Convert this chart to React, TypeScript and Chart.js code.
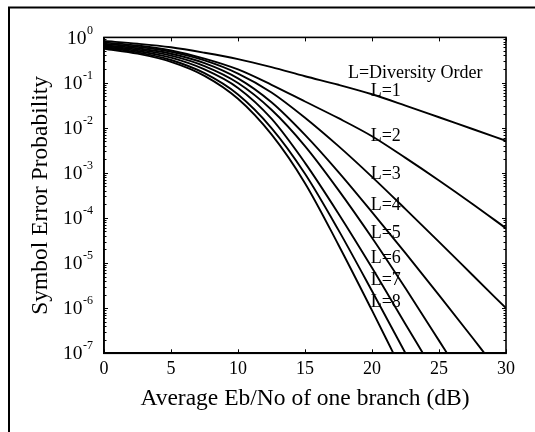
import React, { useEffect, useRef } from "react";
import { Chart, registerables } from "chart.js";

Chart.register(...registerables);

// ---- data ----
const ebNo = [0, 2.5, 5, 7.5, 10, 12.5, 15, 17.5, 20, 22.5, 25, 27.5, 30];

const serL1 = [0.832, 0.724, 0.603, 0.457, 0.331, 0.219, 0.138, 0.0891, 0.055, 0.0309, 0.017, 0.00933, 0.00513];
const serL2 = [0.776, 0.661, 0.513, 0.339, 0.195, 0.0891, 0.038, 0.0162, 0.00646, 0.00214, 6.76e-4, 2.04e-4, 5.89e-5];
const serL3 = [0.724, 0.617, 0.479, 0.309, 0.158, 0.0603, 0.0166, 0.00389, 8.13e-4, 1.57e-4, 2.95e-5, 5.43e-6, 1.0e-6];
const serL4 = [0.676, 0.573, 0.435, 0.269, 0.124, 0.0366, 0.00693, 1.04e-3, 1.35e-4, 1.66e-5, 1.95e-6, 2.21e-7];
const serL5 = [0.646, 0.537, 0.394, 0.231, 0.0973, 0.0249, 0.00391, 4.14e-4, 3.63e-5, 2.75e-6, 1.91e-7];
const serL6 = [0.617, 0.501, 0.355, 0.195, 0.0759, 0.0158, 0.00166, 1.24e-4, 7.85e-6, 4.42e-7];
const serL7 = [0.589, 0.467, 0.316, 0.161, 0.0543, 0.00982, 9.55e-4, 5.37e-5, 2.4e-6];
const serL8 = [0.562, 0.437, 0.288, 0.141, 0.0437, 0.00708, 5.89e-4, 2.51e-5, 8.91e-7];

const seriesList = [serL1, serL2, serL3, serL4, serL5, serL6, serL7, serL8];
// Eb/No where each curve leaves the plot through the 1e-7 floor (null: exits at the right edge)
const floorCrossing = [null, null, null, 28.4, 25.6, 23.8, 22.5, 21.6];
const floorValue = 1e-7;

const xTicks = [0, 5, 10, 15, 20, 25, 30];
const yMajor = [1e-7, 1e-6, 1e-5, 1e-4, 1e-3, 1e-2, 1e-1, 1];
const yTickBase = "10";
const yTickExponents = ["-7", "-6", "-5", "-4", "-3", "-2", "-1", "0"];
const yMinorMult = [2, 3, 4, 5, 6, 7, 8, 9];

const annoTexts = ["L=Diversity Order", "L=1", "L=2", "L=3", "L=4", "L=5", "L=6", "L=7", "L=8"];
const annoX = [18.2, 19.9, 19.9, 19.9, 19.9, 19.9, 19.9, 19.9, 19.9];
const annoY = [0.162, 0.063, 0.0063, 9.3e-4, 1.95e-4, 4.68e-5, 1.26e-5, 4.17e-6, 1.35e-6];

// ---- helpers ----
const yTickValues: number[] = [];
yMajor.forEach((m) => {
  yTickValues.push(m);
  if (m < 1) yMinorMult.forEach((k) => yTickValues.push(m * k));
});
yTickValues.sort((a, b) => a - b);

const majorIndex = (v: number) => yMajor.findIndex((m) => Math.abs(m - v) / m < 1e-6);

const FONT = "'Liberation Serif', 'Times New Roman', serif";

const datasets = seriesList.map((vals, i) => {
  const pts = vals.map((v, j) => ({ x: ebNo[j], y: v }));
  const c = floorCrossing[i];
  if (c !== null) pts.push({ x: c, y: floorValue });
  return {
    label: `L=${i + 1}`,
    data: pts,
    borderColor: "#000",
    borderWidth: 1.9,
    pointRadius: 0,
    fill: false,
    cubicInterpolationMode: "monotone" as const,
  };
});

const decorPlugin = {
  id: "decor",
  afterDraw(chart: any) {
    const { ctx, chartArea: a, scales } = chart;
    const xs = scales.x;
    const ys = scales.y;
    ctx.save();
    ctx.strokeStyle = "#000";
    // axes box
    ctx.lineWidth = 1.6;
    ctx.strokeRect(a.left, a.top, a.right - a.left, a.bottom - a.top);
    // inward ticks
    ctx.lineWidth = 1;
    ctx.beginPath();
    xs.ticks.forEach((t: any) => {
      const px = Math.round(xs.getPixelForValue(t.value)) + 0.5;
      ctx.moveTo(px, a.bottom);
      ctx.lineTo(px, a.bottom - 4);
      ctx.moveTo(px, a.top);
      ctx.lineTo(px, a.top + 4);
    });
    ys.ticks.forEach((t: any) => {
      const py = Math.round(ys.getPixelForValue(t.value)) + 0.5;
      const len = majorIndex(t.value) >= 0 ? 4 : 2.5;
      ctx.moveTo(a.left, py);
      ctx.lineTo(a.left + len, py);
      ctx.moveTo(a.right, py);
      ctx.lineTo(a.right - len, py);
    });
    ctx.stroke();
    // figure border (top and left)
    ctx.lineWidth = 2;
    ctx.beginPath();
    ctx.moveTo(9, chart.height);
    ctx.lineTo(9, 7.5);
    ctx.lineTo(chart.width, 7.5);
    ctx.stroke();
    ctx.fillStyle = "#000";
    // y tick labels: 10 with superscript exponent
    const rightEdge = a.left - 11;
    yMajor.forEach((m, i) => {
      const py = ys.getPixelForValue(m);
      ctx.font = `12px ${FONT}`;
      ctx.textBaseline = "middle";
      ctx.textAlign = "left";
      const ew = ctx.measureText(yTickExponents[i]).width;
      ctx.fillText(yTickExponents[i], rightEdge - ew, py - 7);
      ctx.font = `19.5px ${FONT}`;
      ctx.textAlign = "right";
      ctx.fillText(yTickBase, rightEdge - ew - 0.5, py + 1);
    });
    // annotations
    ctx.font = `18px ${FONT}`;
    ctx.textAlign = "left";
    ctx.textBaseline = "middle";
    annoTexts.forEach((txt, i) => {
      ctx.fillText(txt, xs.getPixelForValue(annoX[i]), ys.getPixelForValue(annoY[i]));
    });
    ctx.restore();
  },
};

export default function App() {
  const ref = useRef<HTMLCanvasElement>(null);
  useEffect(() => {
    document.body.style.margin = "0";
    document.body.style.background = "#fff";
    const chart = new Chart(ref.current as HTMLCanvasElement, {
      type: "line",
      data: { datasets },
      options: {
        animation: false,
        responsive: false,
        devicePixelRatio: 1,
        layout: { padding: { left: 0, right: 29, top: 37.4, bottom: 0 } },
        plugins: { legend: { display: false }, tooltip: { enabled: false } },
        scales: {
          x: {
            type: "linear",
            min: 0,
            max: 30,
            afterBuildTicks: (s: any) => {
              s.ticks = xTicks.map((v) => ({ value: v }));
            },
            afterFit: (s: any) => {
              s.height = 78.7;
            },
            ticks: {
              autoSkip: false,
              maxRotation: 0,
              padding: 5,
              color: "#000",
              font: { family: FONT, size: 18 },
              callback: (v: any) => String(v),
            },
            grid: { drawOnChartArea: false, drawTicks: false },
            border: { color: "#000", width: 1.6 },
            title: {
              display: true,
              text: "Average Eb/No of one branch (dB)",
              color: "#000",
              font: { family: FONT, size: 23.5 },
              padding: { top: 0, bottom: 19 },
            },
          },
          y: {
            type: "logarithmic",
            min: 1e-7,
            max: 1,
            afterBuildTicks: (s: any) => {
              s.ticks = yTickValues.map((v) => ({ value: v }));
            },
            afterFit: (s: any) => {
              s.width = 104;
            },
            ticks: { display: false, autoSkip: false },
            grid: { drawOnChartArea: false, drawTicks: false },
            border: { color: "#000", width: 1.6 },
            title: {
              display: true,
              text: "Symbol Error Probability",
              color: "#000",
              font: { family: FONT, size: 23.5 },
              padding: { top: 27, bottom: 0 },
            },
          },
        },
      },
      plugins: [decorPlugin],
    } as any);
    return () => chart.destroy();
  }, []);
  return (
    <div style={{ width: 535, height: 432, background: "#fff" }}>
      <canvas ref={ref} width={535} height={432} style={{ display: "block" }} />
    </div>
  );
}
